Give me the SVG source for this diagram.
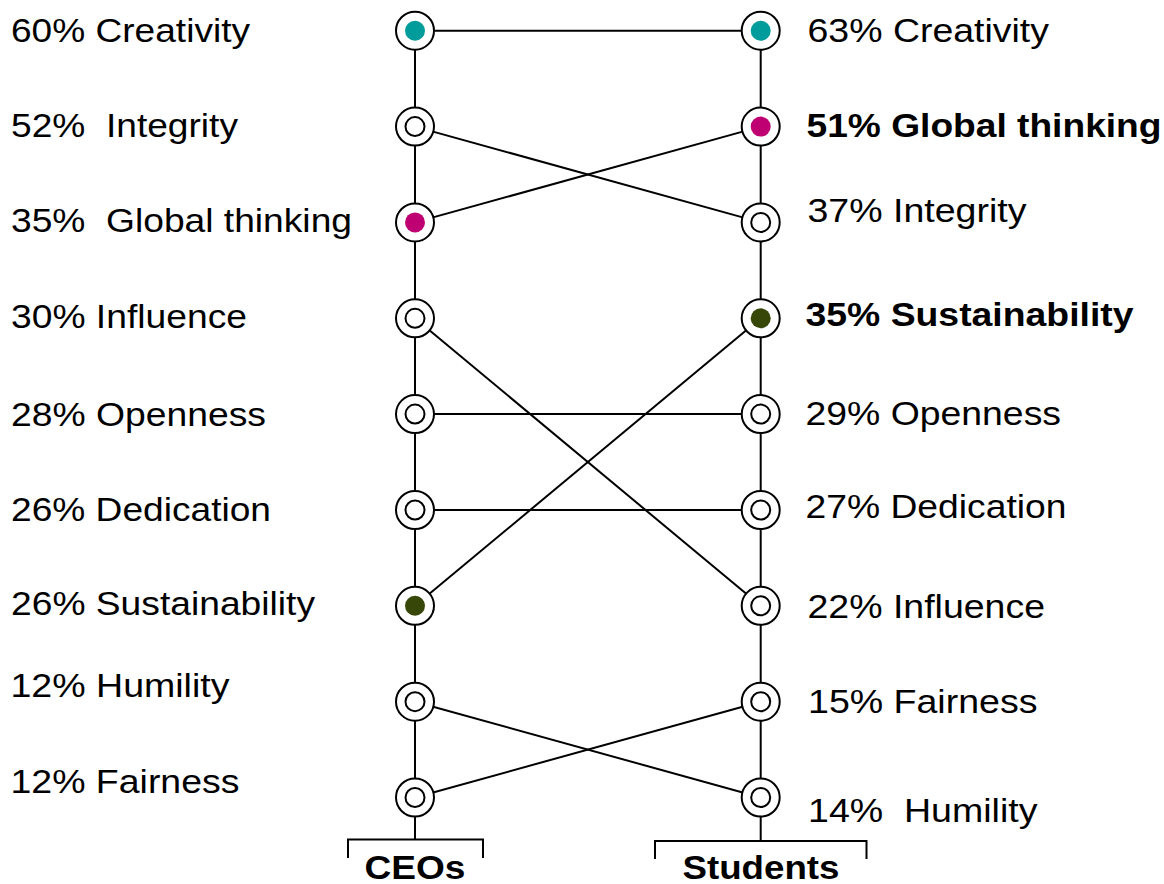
<svg xmlns="http://www.w3.org/2000/svg" width="1164" height="884" viewBox="0 0 1164 884">
<style>
.lbl{font-family:"Liberation Sans",Arial,sans-serif;font-size:33px;fill:#000;white-space:pre}
.b{font-weight:bold}
.hd{font-family:"Liberation Sans",Arial,sans-serif;font-size:34px;font-weight:bold;fill:#000;text-anchor:middle}
.ln{stroke:#000;stroke-width:2;fill:none}
.outer{fill:#fff;stroke:#000;stroke-width:2}
.ring{fill:#fff;stroke:#000;stroke-width:2}
</style>
<defs>
<g id="nodeEmpty"><circle class="outer" r="19"/><circle class="ring" r="9.5"/></g>
<g id="nodeTeal"><circle class="outer" r="19"/><circle r="10" fill="#009B9B"/></g>
<g id="nodeMagenta"><circle class="outer" r="19"/><circle r="10" fill="#BE0072"/></g>
<g id="nodeOlive"><circle class="outer" r="19"/><circle r="10" fill="#364707"/></g>
</defs>
<rect width="1164" height="884" fill="#fff"/>
<g id="connectors">
<line class="ln" x1="415" y1="30.7" x2="415" y2="839.5"/>
<line class="ln" x1="760.7" y1="30.7" x2="760.7" y2="841"/>
<path class="ln" d="M348,858 V839.5 H483 V858"/>
<path class="ln" d="M655,859 V841 H866.5 V859"/>
<line class="ln" x1="415" y1="30.7" x2="760.7" y2="30.7"/>
<line class="ln" x1="415" y1="126.6" x2="760.7" y2="222.4"/>
<line class="ln" x1="415" y1="222.4" x2="760.7" y2="126.6"/>
<line class="ln" x1="415" y1="318.3" x2="760.7" y2="605.8"/>
<line class="ln" x1="415" y1="414.1" x2="760.7" y2="414.1"/>
<line class="ln" x1="415" y1="510" x2="760.7" y2="510"/>
<line class="ln" x1="415" y1="605.8" x2="760.7" y2="318.3"/>
<line class="ln" x1="415" y1="701.7" x2="760.7" y2="797.5"/>
<line class="ln" x1="415" y1="797.5" x2="760.7" y2="701.7"/>
</g>
<g id="ceo-creativity"><use href="#nodeTeal" x="415" y="30.7"/><text class="lbl" x="11" y="41.7" textLength="239" lengthAdjust="spacingAndGlyphs">60% Creativity</text></g>
<g id="ceo-integrity"><use href="#nodeEmpty" x="415" y="126.6"/><text class="lbl" x="11" y="136.7" textLength="227" lengthAdjust="spacingAndGlyphs">52%  Integrity</text></g>
<g id="ceo-global"><use href="#nodeMagenta" x="415" y="222.4"/><text class="lbl" x="11" y="232.3" textLength="341" lengthAdjust="spacingAndGlyphs">35%  Global thinking</text></g>
<g id="ceo-influence"><use href="#nodeEmpty" x="415" y="318.3"/><text class="lbl" x="11" y="328.3" textLength="236" lengthAdjust="spacingAndGlyphs">30% Influence</text></g>
<g id="ceo-openness"><use href="#nodeEmpty" x="415" y="414.1"/><text class="lbl" x="11" y="425.5" textLength="255" lengthAdjust="spacingAndGlyphs">28% Openness</text></g>
<g id="ceo-dedication"><use href="#nodeEmpty" x="415" y="510"/><text class="lbl" x="11" y="520.7" textLength="260" lengthAdjust="spacingAndGlyphs">26% Dedication</text></g>
<g id="ceo-sustainability"><use href="#nodeOlive" x="415" y="605.8"/><text class="lbl" x="11" y="615" textLength="304" lengthAdjust="spacingAndGlyphs">26% Sustainability</text></g>
<g id="ceo-humility"><use href="#nodeEmpty" x="415" y="701.7"/><text class="lbl" x="10.5" y="696.7" textLength="219" lengthAdjust="spacingAndGlyphs">12% Humility</text></g>
<g id="ceo-fairness"><use href="#nodeEmpty" x="415" y="797.5"/><text class="lbl" x="10.5" y="793.3" textLength="229" lengthAdjust="spacingAndGlyphs">12% Fairness</text></g>
<g id="stu-creativity"><use href="#nodeTeal" x="760.7" y="30.7"/><text class="lbl" x="807.5" y="41.7" textLength="241.5" lengthAdjust="spacingAndGlyphs">63% Creativity</text></g>
<g id="stu-global"><use href="#nodeMagenta" x="760.7" y="126.6"/><text class="lbl b" x="806.5" y="136.7" textLength="355" lengthAdjust="spacingAndGlyphs">51% Global thinking</text></g>
<g id="stu-integrity"><use href="#nodeEmpty" x="760.7" y="222.4"/><text class="lbl" x="807.5" y="221.7" textLength="219" lengthAdjust="spacingAndGlyphs">37% Integrity</text></g>
<g id="stu-sustainability"><use href="#nodeOlive" x="760.7" y="318.3"/><text class="lbl b" x="805.5" y="326" textLength="328" lengthAdjust="spacingAndGlyphs">35% Sustainability</text></g>
<g id="stu-openness"><use href="#nodeEmpty" x="760.7" y="414.1"/><text class="lbl" x="805.5" y="425" textLength="255.5" lengthAdjust="spacingAndGlyphs">29% Openness</text></g>
<g id="stu-dedication"><use href="#nodeEmpty" x="760.7" y="510"/><text class="lbl" x="805.5" y="518.3" textLength="261" lengthAdjust="spacingAndGlyphs">27% Dedication</text></g>
<g id="stu-influence"><use href="#nodeEmpty" x="760.7" y="605.8"/><text class="lbl" x="807.5" y="618.3" textLength="237.5" lengthAdjust="spacingAndGlyphs">22% Influence</text></g>
<g id="stu-fairness"><use href="#nodeEmpty" x="760.7" y="701.7"/><text class="lbl" x="808" y="712.7" textLength="229.5" lengthAdjust="spacingAndGlyphs">15% Fairness</text></g>
<g id="stu-humility"><use href="#nodeEmpty" x="760.7" y="797.5"/><text class="lbl" x="808" y="821.7" textLength="229.5" lengthAdjust="spacingAndGlyphs">14%  Humility</text></g>
<g id="label-ceos"><text class="hd" x="415" y="879" textLength="101" lengthAdjust="spacingAndGlyphs">CEOs</text></g>
<g id="label-students"><text class="hd" x="761" y="879" textLength="157" lengthAdjust="spacingAndGlyphs">Students</text></g>
</svg>
